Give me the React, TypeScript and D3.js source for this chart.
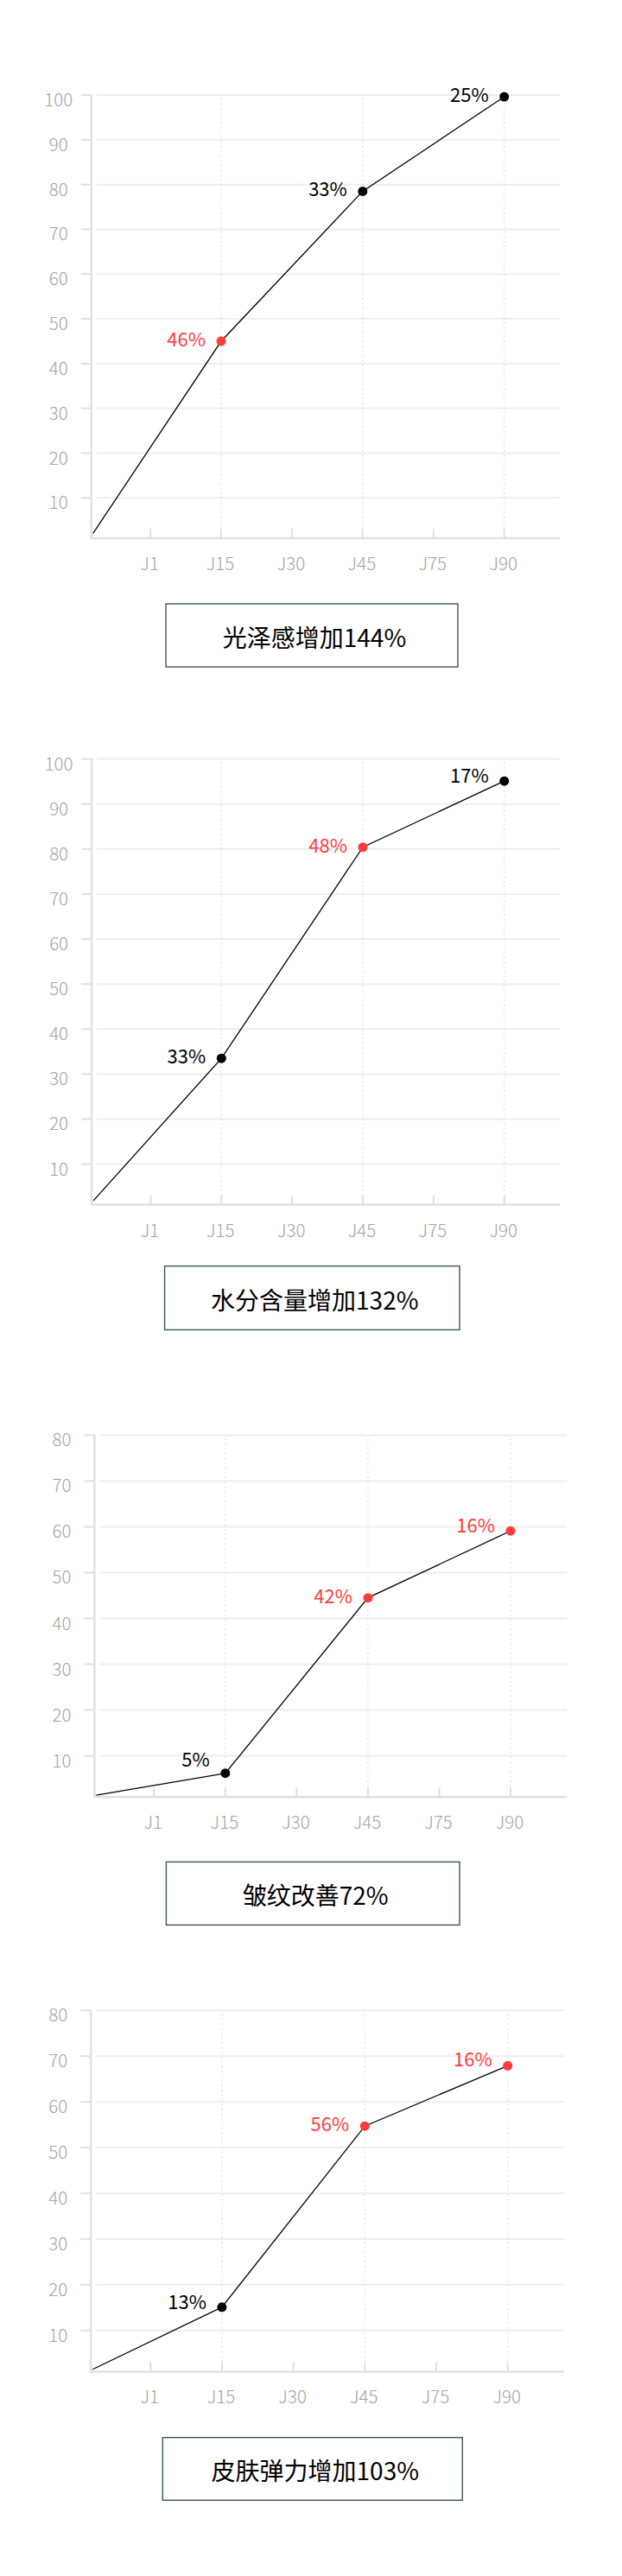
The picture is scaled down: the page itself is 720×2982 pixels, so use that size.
import * as d3 from "d3";

// x axis days
const dayLabels = ["J1", "J15", "J30", "J45", "J75", "J90"];
// days that carry a measurement
const markedDays = ["J15", "J45", "J90"];
// the line starts just right of the y axis, before J1
const startIndex = -0.81;

const glossValues = [2.1, 45, 78.5, 99.6];
const glossLabels = ["46%", "33%", "25%"];
const glossHot = [true, false, false];

const moistureValues = [1.9, 33.5, 80.4, 95.1];
const moistureLabels = ["33%", "48%", "17%"];
const moistureHot = [false, true, false];

const wrinkleValues = [1.4, 6.2, 44.5, 59.1];
const wrinkleLabels = ["5%", "42%", "16%"];
const wrinkleHot = [false, true, true];

const elasticityValues = [1.5, 15.1, 54.7, 67.9];
const elasticityLabels = ["13%", "56%", "16%"];
const elasticityHot = [false, true, true];

const titles = ["光泽感增加144%", "水分含量增加132%", "皱纹改善72%", "皮肤弹力增加103%"];
const yMaxes = [100, 100, 80, 80];

const WIDTH = 720;
const HEIGHT = 2982;
const FONT = "'Noto Sans CJK SC', 'Noto Sans', sans-serif";
const RED = "#ff3b3b";
const GRID = "#eeeeee";
const AXIS = "#e0e0e0";
const TICK_TEXT = "#a3a3a3";

// plot frame of each panel: y axis x, right end, top gridline y, x axis y, caption box
const frames = [
  { left: 105.7, right: 648.4, top: 110, bottom: 623, box: [192, 699, 530, 772] },
  { left: 106.1, right: 648.4, top: 878.6, bottom: 1394.5, box: [190.6, 1465.6, 532, 1539.4] },
  { left: 109.4, right: 656.2, top: 1661.4, bottom: 2080.3, box: [192.4, 2155.4, 532, 2228.4] },
  { left: 105.2, right: 653, top: 2327.3, bottom: 2745.4, box: [188.3, 2821.7, 535.3, 2894.3] },
];

type Frame = (typeof frames)[number];

interface PanelProps {
  frame: Frame;
  yMax: number;
  values: number[];
  labels: string[];
  hot: boolean[];
  title: string;
}

function Panel({ frame, yMax, values, labels, hot, title }: PanelProps) {
  const x = d3.scaleLinear().domain([-0.835, 5.79]).range([frame.left, frame.right]);
  const y = d3.scaleLinear().domain([1, yMax]).range([frame.bottom, frame.top]);

  const idx = [startIndex, ...markedDays.map((d) => dayLabels.indexOf(d))];
  const pts: [number, number][] = values.map((v, i) => [x(idx[i]), y(v)]);
  const line = d3.line()(pts) ?? "";

  // keep each label above the segment that comes into its point
  const labelY = (i: number) => {
    const [x0, y0] = pts[i];
    const [x1, y1] = pts[i + 1];
    const lx = x1 - 34;
    const along = y0 + ((y1 - y0) * (lx - x0)) / (x1 - x0);
    return Math.min(y1 - 4, along - 24);
  };

  const yTicks = d3.range(10, yMax + 1, 10);
  const [bx0, by0, bx1, by1] = frame.box;

  return (
    <g>
      {/* horizontal grid + y ticks */}
      {yTicks.map((t) => (
        <g key={t}>
          <line x1={frame.left + 6} x2={frame.right} y1={y(t)} y2={y(t)} stroke={GRID} strokeWidth={2} />
          <line x1={frame.left - 12} x2={frame.left} y1={y(t)} y2={y(t)} stroke={AXIS} strokeWidth={2} />
          <text
            x={frame.left - 38}
            y={y(t) + 4}
            textAnchor="middle"
            dominantBaseline="central"
            fontSize={20.5}
            fontWeight={300}
            fill={TICK_TEXT}
          >
            {t}
          </text>
        </g>
      ))}

      {/* dotted guides at measured days */}
      {markedDays.map((d) => (
        <line
          key={d}
          x1={x(dayLabels.indexOf(d))}
          x2={x(dayLabels.indexOf(d))}
          y1={frame.top + 4}
          y2={frame.bottom}
          stroke="#dddddd"
          strokeWidth={1.5}
          strokeDasharray="1.5 4"
        />
      ))}

      {/* axes */}
      <line x1={frame.left} x2={frame.left} y1={frame.top - 1} y2={frame.bottom + 1} stroke={AXIS} strokeWidth={2.5} />
      <line x1={frame.left} x2={frame.right} y1={frame.bottom} y2={frame.bottom} stroke={AXIS} strokeWidth={2.5} />
      {dayLabels.map((d, i) => (
        <g key={d}>
          <line x1={x(i)} x2={x(i)} y1={frame.bottom - 11} y2={frame.bottom} stroke={AXIS} strokeWidth={2} />
          <text x={x(i) - 1} y={frame.bottom + 37} textAnchor="middle" fontSize={20.5} fontWeight={300} fill={TICK_TEXT}>
            {d}
          </text>
        </g>
      ))}

      {/* series */}
      <path d={line} fill="none" stroke="#000" strokeWidth={1.3} />
      {pts.slice(1).map(([px, py], i) => (
        <g key={i}>
          <circle cx={px} cy={py} r={5.5} fill={hot[i] ? RED : "#000"} />
          <text
            x={px - 18}
            y={labelY(i)}
            textAnchor="end"
            dominantBaseline="central"
            fontSize={22}
            fill={hot[i] ? RED : "#000"}
          >
            {labels[i]}
          </text>
        </g>
      ))}

      {/* caption box */}
      <rect x={bx0} y={by0} width={bx1 - bx0} height={by1 - by0} fill="#fff" stroke="#3f5656" strokeWidth={1.4} />
      <text
        x={(bx0 + bx1) / 2 + 3}
        y={(by0 + by1) / 2 + 1}
        textAnchor="middle"
        dominantBaseline="central"
        fontSize={28}
        fill="#000"
      >
        {title}
      </text>
    </g>
  );
}

export default function App() {
  const series = [
    { values: glossValues, labels: glossLabels, hot: glossHot },
    { values: moistureValues, labels: moistureLabels, hot: moistureHot },
    { values: wrinkleValues, labels: wrinkleLabels, hot: wrinkleHot },
    { values: elasticityValues, labels: elasticityLabels, hot: elasticityHot },
  ];

  return (
    <div style={{ position: "absolute", left: 0, top: 0, width: WIDTH, height: HEIGHT, background: "#fff" }}>
      <svg width={WIDTH} height={HEIGHT} viewBox={`0 0 ${WIDTH} ${HEIGHT}`} style={{ display: "block", fontFamily: FONT }}>
        <rect width={WIDTH} height={HEIGHT} fill="#fff" />
        {series.map((s, i) => (
          <Panel
            key={i}
            frame={frames[i]}
            yMax={yMaxes[i]}
            values={s.values}
            labels={s.labels}
            hot={s.hot}
            title={titles[i]}
          />
        ))}
      </svg>
    </div>
  );
}
